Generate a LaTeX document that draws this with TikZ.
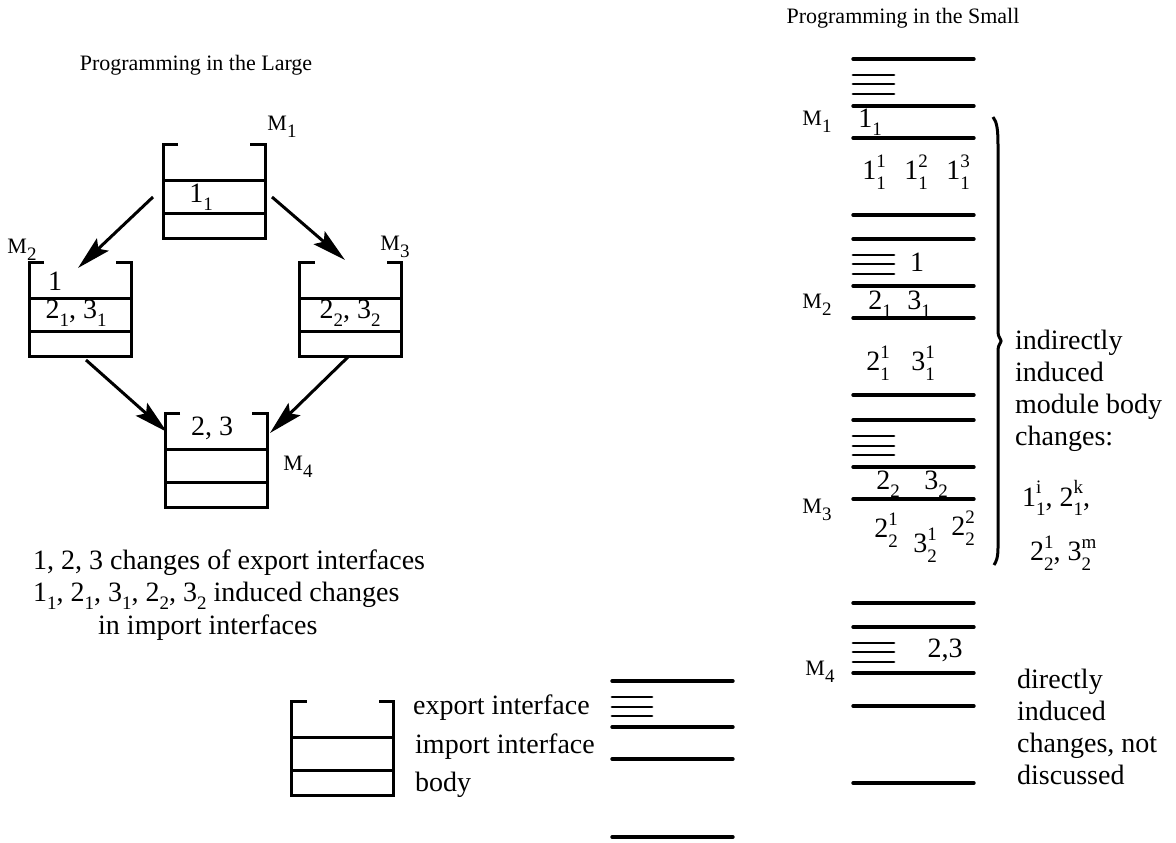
\documentclass[tikz,border=0pt]{standalone}
\usepackage{fontspec}
\setmainfont{Liberation Serif}
\usetikzlibrary{arrows.meta,calc}
\newcommand{\scr}{\fontsize{19}{19}\selectfont}
\newcommand{\ud}[3]{#1\setbox0=\hbox{\scr #2}\setbox2=\hbox{\scr #3}\dimen0=\wd0 \ifdim\wd2>\dimen0 \dimen0=\wd2 \fi\rlap{\raise0.45em\box0}\rlap{\lower0.33em\box2}\kern\dimen0 }
\newcommand{\dn}[2]{#1\lower0.3em\hbox{\scr #2}}
\begin{document}
\begin{tikzpicture}[x=1pt,y=-1pt,
  txt/.style={font=\fontsize{28}{32}\selectfont, inner sep=0pt},
  ttl/.style={font=\fontsize{22}{26}\selectfont, inner sep=0pt},
  mlab/.style={font=\fontsize{22}{26}\selectfont, inner sep=0pt},
  mbox/.style={minimum width=102pt, minimum height=94pt, inner sep=0pt, outer sep=0pt},
  boxl/.style={line width=3pt},
  bar/.style={line width=3.4pt, line cap=round},
  sbar/.style={line width=2.8pt, line cap=round},
  arr/.style={line width=3pt, -{Stealth[length=34pt,width=17pt,inset=6pt]}}
]
\useasboundingbox (0,0) rectangle (1176,843);

\newcommand{\openbox}[1]{%
  \draw[boxl] ($(#1.north west)+(15,0)$) -- (#1.north west) -- (#1.south west) -- (#1.south east) -- (#1.north east) -- ($(#1.north east)+(-15,0)$);
  \draw[boxl] ($(#1.north west)+(0,36)$) -- ($(#1.north east)+(0,36)$);
  \draw[boxl] ($(#1.north west)+(0,69)$) -- ($(#1.north east)+(0,69)$);}

% ---------- Programming in the Large ----------
\node[ttl] (tl) at (196,65) {Programming in the Large};

\node[mbox] (m1) at (214,191.5) {};
\node[mbox] (m2) at (80,309) {};
\node[mbox] (m3) at (350.5,309) {};
\node[mbox] (m4) at (216,460) {};
\openbox{m1}\openbox{m2}\openbox{m3}\openbox{m4}

\node[txt] (t11) at (201,197) {\dn{1}{1}};
\node[txt] (t2a) at (55,281) {1};
\node[txt] (t2b) at (76,313) {\dn{2}{1}, \dn{3}{1}};
\node[txt] (t3b) at (350,313) {\dn{2}{2}, \dn{3}{2}};
\node[txt] (t4a) at (212,428) {2, 3};

\node[mlab] (lm1) at (282,127) {\dn{M}{1}};
\node[mlab] (lm2) at (22,250) {\dn{M}{2}};
\node[mlab] (lm3) at (395,247) {\dn{M}{3}};
\node[mlab] (lm4) at (298,467) {\dn{M}{4}};

\coordinate (a1s) at ($(m1.west)+(-10,5.5)$);
\coordinate (a1e) at ($(m2.north)+(-2,6)$);
\coordinate (a2s) at ($(m1.east)+(7,5.5)$);
\coordinate (a2e) at ($(m3.north)+(-5.5,-2)$);
\coordinate (a3s) at ($(m2.south)+(6,4)$);
\coordinate (a3e) at ($(m4.north west)+(2,19)$);
\coordinate (a4s) at ($(m3.south)+(-2.5,1)$);
\coordinate (a4e) at ($(m4.north east)+(3,20)$);
\draw[arr] (a1s) -- (a1e);
\draw[arr] (a2s) -- (a2e);
\draw[arr] (a3s) -- (a3e);
\draw[arr] (a4s) -- (a4e);

\node[txt,anchor=west] (n1) at (33,563) {1, 2, 3 changes of export interfaces};
\node[txt,anchor=west] (n2) at (33,596) {\dn{1}{1}, \dn{2}{1}, \dn{3}{1}, \dn{2}{2}, \dn{3}{2} induced changes};
\node[txt,anchor=west] (n3) at (98,628) {in import interfaces};

% ---------- Legend ----------
\node[mbox] (lg) at (342.5,748) {};
\openbox{lg}
\node[txt,anchor=west] (le1) at (413,708) {export interface};
\node[txt,anchor=west] (le2) at (415,747) {import interface};
\node[txt,anchor=west] (le3) at (415,785) {body};
\foreach \y in {681,727,759,837} \draw[bar] (612,\y) -- (733,\y);
\foreach \y in {697,707,716} \draw[sbar] (612,\y) -- (652,\y);

% ---------- Programming in the Small ----------
\node[ttl] (ts) at (903,18) {Programming in the Small};
\foreach \y in {59,106,138,215,239,286,318,395,420,467,499,603,627,673,706,783}
  \draw[bar] (853,\y) -- (974,\y);
\foreach \y in {75,84,94,255,264,274,436,446,455,643,652,662}
  \draw[sbar] (853,\y) -- (894,\y);

\node[mlab] (rm1) at (817,122) {\dn{M}{1}};
\node[mlab] (rm2) at (817,305) {\dn{M}{2}};
\node[mlab] (rm3) at (817,510) {\dn{M}{3}};
\node[mlab] (rm4) at (820,672) {\dn{M}{4}};

\node[txt] (s11) at (870,122) {\dn{1}{1}};
\node[txt] (s111) at (874,172) {\ud{1}{1}{1}};
\node[txt] (s112) at (916,172) {\ud{1}{2}{1}};
\node[txt] (s113) at (958,172) {\ud{1}{3}{1}};
\node[txt] (s1) at (917,262) {1};
\node[txt] (s21) at (880,304) {\dn{2}{1}};
\node[txt] (s31) at (919,304) {\dn{3}{1}};
\node[txt] (s211) at (878,363) {\ud{2}{1}{1}};
\node[txt] (s311) at (923,363) {\ud{3}{1}{1}};
\node[txt] (s22) at (888,484) {\dn{2}{2}};
\node[txt] (s32) at (936,484) {\dn{3}{2}};
\node[txt] (s212) at (886,530) {\ud{2}{1}{2}};
\node[txt] (s312) at (925,545) {\ud{3}{1}{2}};
\node[txt] (s222) at (963,528) {\ud{2}{2}{2}};
\node[txt] (s23) at (945,650) {2,3};

\draw[line width=3pt] (993,117) .. controls (997,122) and (998,130) .. (998,145)
  -- (998,332) .. controls (998,337) and (1001,339) .. (1001,341)
  .. controls (1001,343) and (998,345) .. (998,350)
  -- (998,548) .. controls (998,558) and (996,562) .. (994,565);

\node[txt,anchor=west,align=left] (ind) at (1015,391) {indirectly\\induced\\module body\\changes:};
\node[txt,anchor=west] (ch1) at (1022,498) {\ud{1}{i}{1}, \ud{2}{k}{1},};
\node[txt,anchor=west] (ch2) at (1030,553) {\ud{2}{1}{2}, \ud{3}{m}{2}};
\node[txt,anchor=west,align=left] (dir) at (1017,727) {directly\\induced\\changes, not\\discussed};
\end{tikzpicture}
\end{document}
